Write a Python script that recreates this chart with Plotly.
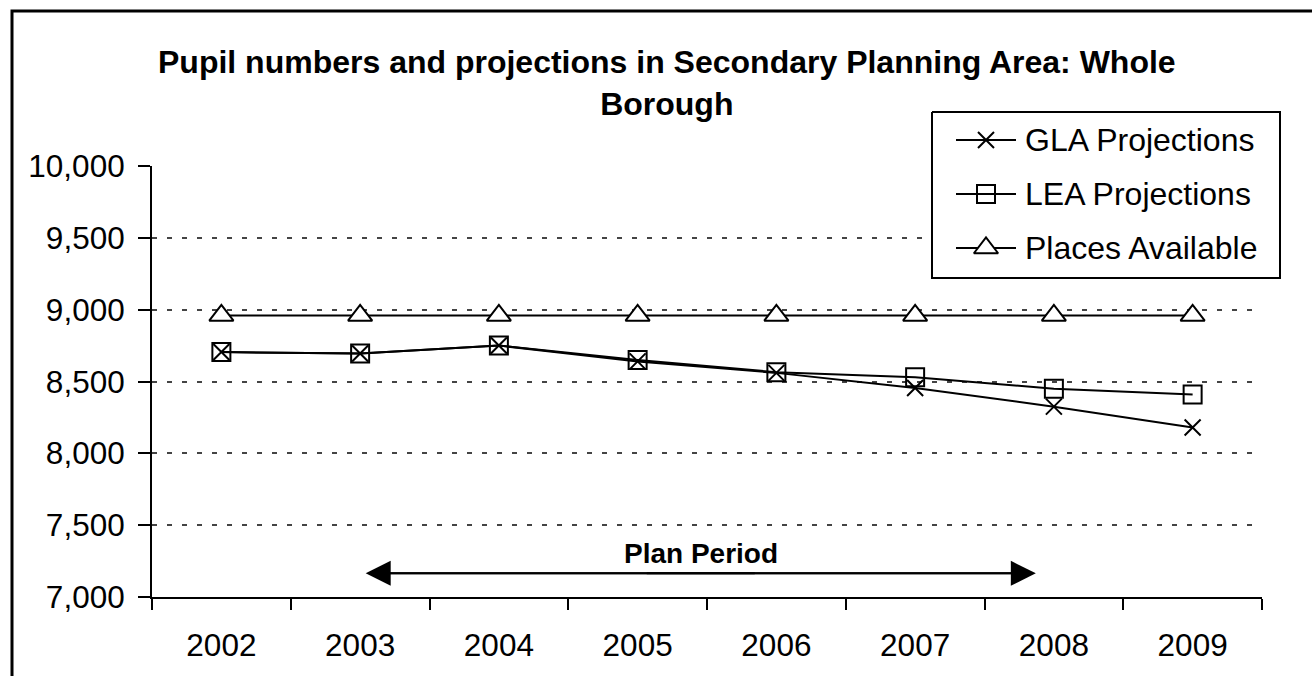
import plotly.graph_objects as go

# ---- data -------------------------------------------------------------
YEARS = ["2002", "2003", "2004", "2005", "2006", "2007", "2008", "2009"]
GLA_PROJECTIONS = [8705, 8695, 8750, 8640, 8560, 8455, 8325, 8180]
LEA_PROJECTIONS = [8705, 8695, 8750, 8650, 8565, 8530, 8450, 8410]
PLACES_AVAILABLE = [8960, 8960, 8960, 8960, 8960, 8960, 8960, 8960]
Y_TICKS = [7000, 7500, 8000, 8500, 9000, 9500, 10000]

# plan period arrow: start / end as category positions, drawn at a fixed level
PLAN_LABEL = "Plan Period"
PLAN_START = 1.04
PLAN_END = 5.87
PLAN_LEVEL = 7165
PLAN_LABEL_LEVEL = 7305

TITLE = "Pupil numbers and projections in Secondary Planning Area: Whole<br>Borough"

# ---- layout helpers (pixel -> paper) ----------------------------------
W, H = 1312, 676
FONT = "Liberation Sans, Arial, sans-serif"


def fx(px):
    return px / W


def fy(py):
    return 1 - py / H


SERIES = [
    ("GLA Projections", GLA_PROJECTIONS,
     dict(symbol="x-thin-open", size=16, color="black",
          line=dict(width=2, color="black"))),
    ("LEA Projections", LEA_PROJECTIONS,
     dict(symbol="square-open", size=18, color="black",
          line=dict(width=2, color="black"))),
    ("Places Available", PLACES_AVAILABLE,
     dict(symbol="triangle-up", size=21, color="white",
          line=dict(width=2, color="black"))),
]

fig = go.Figure()

for name, values, marker in SERIES:
    fig.add_trace(go.Scatter(
        x=YEARS, y=values, name=name, mode="lines+markers",
        line=dict(color="black", width=2), marker=marker,
        showlegend=False, cliponaxis=False,
    ))

# ---- hand-built legend on a full-figure pixel overlay ----------------
LEG_LEFT, LEG_RIGHT, LEG_TOP, LEG_BOTTOM = 932, 1280, 112, 278
LEG_ROWS = [140, 194, 248]
LEG_LINE = (956, 1016)
LEG_TEXT_X = 1023

shapes = []
annotations = []

# legend box (white fill hides the gridlines behind it)
fig.add_trace(go.Scatter(
    x=[LEG_LEFT, LEG_RIGHT, LEG_RIGHT, LEG_LEFT, LEG_LEFT],
    y=[LEG_TOP, LEG_TOP, LEG_BOTTOM, LEG_BOTTOM, LEG_TOP],
    mode="lines", fill="toself", fillcolor="white",
    line=dict(color="black", width=2),
    xaxis="x2", yaxis="y2", showlegend=False, hoverinfo="skip",
))

for (name, _, marker), row in zip(SERIES, LEG_ROWS):
    fig.add_trace(go.Scatter(
        x=list(LEG_LINE), y=[row, row], mode="lines",
        line=dict(color="black", width=2),
        xaxis="x2", yaxis="y2", showlegend=False, hoverinfo="skip",
    ))
    fig.add_trace(go.Scatter(
        x=[(LEG_LINE[0] + LEG_LINE[1]) / 2], y=[row], mode="markers",
        marker=marker, xaxis="x2", yaxis="y2", showlegend=False,
        hoverinfo="skip", cliponaxis=False,
    ))
    annotations.append(dict(
        text=name, xref="paper", yref="paper",
        x=fx(LEG_TEXT_X), y=fy(row), xanchor="left", yanchor="middle",
        showarrow=False, font=dict(family=FONT, size=32, color="black"),
    ))

# outer chart frame
shapes.append(dict(type="rect", xref="paper", yref="paper",
                   x0=fx(12), x1=fx(1340), y0=fy(700), y1=fy(11),
                   line=dict(color="black", width=3), layer="below"))

# title
annotations.append(dict(
    text="<b>" + TITLE + "</b>", xref="paper", yref="paper",
    x=fx(667), y=fy(83), xanchor="center", yanchor="middle",
    showarrow=False, font=dict(family=FONT, size=32, color="black"),
))

# plan period double arrow: a continuous shaft plus two arrowheads
mid = (PLAN_START + PLAN_END) / 2
shapes.append(dict(type="line", xref="x", yref="y",
                   x0=PLAN_START + 0.1, x1=PLAN_END - 0.1,
                   y0=PLAN_LEVEL, y1=PLAN_LEVEL,
                   line=dict(color="black", width=2), layer="above"))
for tip, tail in ((PLAN_START, mid + 0.4), (PLAN_END, mid - 0.4)):
    annotations.append(dict(
        x=tip, y=PLAN_LEVEL, ax=tail, ay=PLAN_LEVEL,
        xref="x", yref="y", axref="x", ayref="y",
        showarrow=True, arrowhead=2, arrowsize=2.5, arrowwidth=2,
        arrowcolor="black", text="",
    ))
annotations.append(dict(
    text="<b>" + PLAN_LABEL + "</b>", x=mid, y=PLAN_LABEL_LEVEL,
    xref="x", yref="y",
    xanchor="center", yanchor="middle", showarrow=False,
    font=dict(family=FONT, size=28, color="black"),
))

fig.update_layout(
    template="none",
    width=W, height=H, autosize=False,
    margin=dict(l=0, r=0, t=0, b=0, pad=0, autoexpand=False),
    paper_bgcolor="white", plot_bgcolor="rgba(0,0,0,0)",
    font=dict(family=FONT, size=31, color="black"),
    showlegend=False,
    xaxis=dict(
        domain=[fx(152), fx(1262)], automargin=False,
        type="category", categoryorder="array", categoryarray=YEARS,
        range=[-0.5, len(YEARS) - 0.5],
        tickson="boundaries", ticks="outside", ticklen=11, tickwidth=2,
        tickcolor="black", showline=True, linecolor="black", linewidth=2,
        showgrid=False, zeroline=False,
        tickfont=dict(family=FONT, size=31.5, color="black"),
        ticklabelstandoff=19,
    ),
    yaxis=dict(
        domain=[fy(597), fy(166)], automargin=False,
        range=[7000, 10000], tickvals=Y_TICKS, tickformat=",",
        ticks="outside", ticklen=12, tickwidth=2, tickcolor="black",
        showline=True, linecolor="black", linewidth=2,
        showgrid=True, gridcolor="#444444", gridwidth=2,
        griddash="5px,10px", zeroline=False,
        tickfont=dict(family=FONT, size=31.5, color="black"),
        ticklabelstandoff=7,
    ),
    xaxis2=dict(domain=[0, 1], range=[0, W], visible=False,
                anchor="y2", fixedrange=True, automargin=False),
    yaxis2=dict(domain=[0, 1], range=[H, 0], visible=False,
                anchor="x2", fixedrange=True, automargin=False),
    shapes=shapes,
    annotations=annotations,
)

fig.write_html("out.html")
